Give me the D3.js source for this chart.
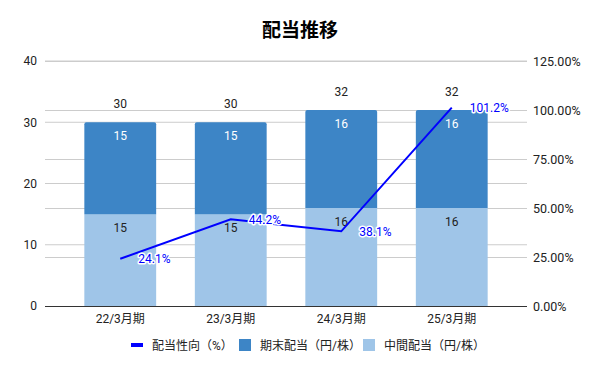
<!DOCTYPE html>
<html><head><meta charset="utf-8">
<script src="https://cdn.jsdelivr.net/npm/d3@7"></script>
<style>body{margin:0;background:#fff}svg{display:block}</style>
</head><body>
<script>
const categories = ["22/3月期","23/3月期","24/3月期","25/3月期"];
const interimDiv = [15,15,16,16];
const yearEndDiv = [15,15,16,16];
const totalDiv = [30,30,32,32];
const payoutRatio = [24.1,44.2,38.1,101.2];
const leftTicks = [0,10,20,30,40];
const rightTicks = [0,25,50,75,100,125];
const seriesNames = ["配当性向（%）","期末配当（円/株）","中間配当（円/株）"];

const W=600,H=371;
const font = "Roboto,'Noto Sans CJK JP',sans-serif";
const svg = d3.select("body").append("svg").attr("width",W).attr("height",H).style("font-family",font);
const colLight="#9fc5e8", colDark="#3d85c6", colLine="#0000ff";

const x = d3.scaleBand().domain(categories).range([65,507]).paddingInner(0.35).paddingOuter(0.175);
const y = d3.scaleLinear().domain([0,40]).range([306,61]);
const y2 = d3.scaleLinear().domain([0,125]).range([306,61]);

svg.append("text").attr("x",300).attr("y",37).attr("text-anchor","middle")
  .attr("font-size",19).attr("font-weight","bold").attr("fill","#000").text("配当推移");

// gridlines
svg.append("g").selectAll("line").data(leftTicks.filter(d=>d>0)).join("line")
  .attr("x1",45).attr("x2",527).attr("y1",d=>y(d)).attr("y2",d=>y(d))
  .attr("stroke","#ccc").attr("stroke-width",1);
svg.append("g").selectAll("line").data(rightTicks.filter(d=>d>0)).join("line")
  .attr("x1",45).attr("x2",527).attr("y1",d=>Math.round(y2(d))+0.5).attr("y2",d=>Math.round(y2(d))+0.5)
  .attr("stroke","#ccc").attr("stroke-width",1);

// left axis
const la = svg.append("g").attr("transform","translate(45,0)")
  .call(d3.axisLeft(y).tickValues(leftTicks).tickSize(0).tickPadding(8));
la.select(".domain").remove();
la.selectAll("text").attr("font-size",12).attr("fill","#222").style("font-family",font);
// right axis
const ra = svg.append("g").attr("transform","translate(527,0)")
  .call(d3.axisRight(y2).tickValues(rightTicks).tickSize(0).tickPadding(6).tickFormat(d=>d.toFixed(2)+"%"));
ra.select(".domain").remove();
ra.selectAll("text").attr("font-size",12.5).attr("fill","#222").style("font-family",font);

// bars
const bars = svg.append("g");
bars.selectAll("rect.lo").data(categories).join("rect").attr("class","lo")
  .attr("x",d=>x(d)).attr("width",x.bandwidth())
  .attr("y",(d,i)=>y(interimDiv[i])).attr("height",(d,i)=>y(0)-y(interimDiv[i]))
  .attr("fill",colLight);
bars.selectAll("path.hi").data(categories).join("path").attr("class","hi")
  .attr("d",(d,i)=>{
    const x0=x(d), x1=x0+x.bandwidth(), yt=y(interimDiv[i]+yearEndDiv[i]), yb=y(interimDiv[i]), r=2;
    return `M${x0},${yb}V${yt+r}Q${x0},${yt} ${x0+r},${yt}H${x1-r}Q${x1},${yt} ${x1},${yt+r}V${yb}Z`;
  }).attr("fill",colDark);

// baseline
svg.append("line").attr("x1",45).attr("x2",527).attr("y1",306.5).attr("y2",306.5).attr("stroke","#333");

// x labels
const xa = svg.append("g").attr("transform","translate(0,306)")
  .call(d3.axisBottom(x).tickSize(0).tickPadding(8));
xa.select(".domain").remove();
xa.selectAll("text").attr("font-size",12).attr("fill","#222").style("font-family",font);

// bar labels
const lbl = svg.append("g").attr("font-size",12).attr("text-anchor","middle");
lbl.selectAll("text.lo").data(categories).join("text").attr("class","lo")
  .attr("x",d=>x(d)+x.bandwidth()/2).attr("y",(d,i)=>y(interimDiv[i])+18)
  .attr("fill","#222").text((d,i)=>interimDiv[i]);
lbl.selectAll("text.hi").data(categories).join("text").attr("class","hi")
  .attr("x",d=>x(d)+x.bandwidth()/2).attr("y",(d,i)=>y(interimDiv[i]+yearEndDiv[i])+18)
  .attr("fill","#fff").text((d,i)=>yearEndDiv[i]);
lbl.selectAll("text.tot").data(categories).join("text").attr("class","tot")
  .attr("x",d=>x(d)+x.bandwidth()/2).attr("y",(d,i)=>y(totalDiv[i])-14)
  .attr("fill","#222").text((d,i)=>totalDiv[i]);

// line
const cx = d=>x(d)+x.bandwidth()/2;
svg.append("path").datum(categories)
  .attr("d",d3.line().x(d=>cx(d)).y((d,i)=>y2(payoutRatio[i])))
  .attr("fill","none").attr("stroke",colLine).attr("stroke-width",2);
const pl = svg.append("g").attr("font-size",12).attr("fill",colLine);
pl.selectAll("text").data(categories).join("text")
  .attr("x",d=>cx(d)+18).attr("y",(d,i)=>y2(payoutRatio[i])+4.5)
  .attr("stroke","#fff").attr("stroke-width",3).attr("paint-order","stroke").attr("stroke-linejoin","round")
  .text((d,i)=>payoutRatio[i].toFixed(1)+"%");

// legend
const lg = svg.append("g").attr("font-size",12).attr("fill","#222");
const items=[{x:131,type:"line",c:colLine},{x:239,type:"rect",c:colDark},{x:363,type:"rect",c:colLight}];
items.forEach((it,i)=>{
  if(it.type==="line") lg.append("rect").attr("x",it.x).attr("y",343).attr("width",12).attr("height",4).attr("fill",it.c);
  else lg.append("rect").attr("x",it.x).attr("y",339).attr("width",12).attr("height",12).attr("fill",it.c);
  lg.append("text").attr("x",it.x+21).attr("y",349.5).text(seriesNames[i]);
});
</script>
</body></html>
